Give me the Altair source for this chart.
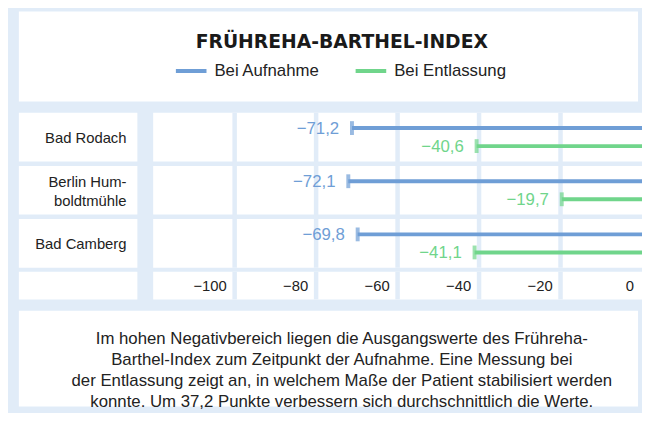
import altair as alt
import pandas as pd

# ---- data ----
sites = ["Bad Rodach", "Berlin Humboldtmühle", "Bad Camberg"]
site_labels = ["Bad Rodach", "Berlin Hum-\nboldtmühle", "Bad Camberg"]
series = ["Bei Aufnahme", "Bei Entlassung"]
aufnahme = [-71.2, -72.1, -69.8]
entlassung = [-40.6, -19.7, -41.1]
ticks = [-100, -80, -60, -40, -20, 0]
title_text = "FRÜHREHA-BARTHEL-INDEX"
note_lines = [
    "Im hohen Negativbereich liegen die Ausgangswerte des Frühreha-",
    "Barthel-Index zum Zeitpunkt der Aufnahme. Eine Messung bei",
    "der Entlassung zeigt an, in welchem Maße der Patient stabilisiert werden",
    "konnte. Um 37,2 Punkte verbessern sich durchschnittlich die Werte.",
]

# ---- styles ----
BG = "#e1ecf8"
BLUE = "#6f9ed6"
GREEN = "#70d58b"
TEXT = "#222222"
FONT = "Liberation Sans"
WHITE_VIEW = alt.ViewBackground(fill="white", stroke=None)

values = pd.DataFrame({
    "site": sites * 2,
    "series": [series[0]] * len(sites) + [series[1]] * len(sites),
    "value": aufnahme + entlassung,
})
site_df = pd.DataFrame({"site": sites, "label": site_labels})
tick_df = pd.DataFrame({"tick": ticks})

xscale = alt.Scale(domain=[-120, 0], nice=False, zero=False)
yscale = alt.Scale(paddingInner=0.0836, paddingOuter=0)
yenc = alt.Y("site:N", sort=sites, scale=yscale, axis=None)
yoff = alt.YOffset("series:N", sort=series, scale=alt.Scale(paddingInner=0, paddingOuter=0.35))
cscale = alt.Scale(domain=series, range=[BLUE, GREEN])
legend = alt.Legend(title=None, orient="none", legendX=159, legendY=44.5, direction="horizontal",
                    symbolType="M-1,-0.13H1V0.13H-1Z", symbolSize=961, symbolStrokeWidth=0,
                    labelFontSize=17, labelFont=FONT, labelColor=TEXT, labelOffset=8,
                    columnPadding=36, padding=0)

# white row cells and blue column gaps
cells = alt.Chart(site_df).mark_rect(color="white").encode(y=yenc)
gaps = alt.Chart(tick_df).transform_filter("datum.tick < 0").transform_calculate(
    g0="datum.tick - 0.55", g1="datum.tick + 0.55"
).mark_rect(color=BG).encode(
    x=alt.X("g0:Q", scale=xscale, axis=None), x2="g1:Q"
)

bars = alt.Chart(values).mark_bar(height=4).encode(
    x=alt.X("value:Q", scale=xscale, axis=None),
    x2=alt.datum(0),
    y=yenc, yOffset=yoff,
    color=alt.Color("series:N", sort=series, scale=cscale, legend=legend),
)
caps = alt.Chart(values).mark_tick(thickness=4, size=14).encode(
    x=alt.X("value:Q", scale=xscale, axis=None),
    y=yenc, yOffset=yoff,
    color=alt.Color("series:N", sort=series, scale=cscale, legend=None),
)
vlabels = alt.Chart(values).transform_calculate(
    lbl="replace(format(datum.value, '.1f'), '.', ',')"
).mark_text(align="right", baseline="middle", dx=-13, dy=1, fontSize=17, font=FONT).encode(
    x=alt.X("value:Q", scale=xscale, axis=None),
    y=yenc, yOffset=yoff,
    text="lbl:N",
    color=alt.Color("series:N", sort=series, scale=cscale, legend=None),
)
bars_chart = alt.layer(cells, gaps, bars, caps, vlabels).properties(width=495, height=157)

lab_base = alt.Chart(site_df).transform_calculate(nl="length(split(datum.label, '\\n'))")
lab1 = lab_base.transform_filter("datum.nl == 1").mark_text(
    align="right", baseline="middle", fontSize=15, font=FONT, color=TEXT, dy=1
).encode(x=alt.value(109), y=yenc, text="label:N")
lab2 = lab_base.transform_filter("datum.nl > 1").mark_text(
    align="right", baseline="middle", fontSize=15, font=FONT, color=TEXT,
    lineBreak="\n", lineHeight=19, dy=-8.5
).encode(x=alt.value(109), y=yenc, text="label:N")
label_col = alt.layer(cells, lab1, lab2).properties(width=120, height=157)

axis_empty = alt.Chart(pd.DataFrame({"t": [""]})).mark_text().encode(
    text="t:N", x=alt.value(60), y=alt.value(14)
).properties(width=120, height=28, view=WHITE_VIEW)
axis_text = alt.Chart(tick_df).transform_calculate(
    lbl="format(datum.tick, 'd')"
).mark_text(align="right", baseline="middle", dx=-8, dy=1, fontSize=15, font=FONT, color=TEXT).encode(
    x=alt.X("tick:Q", scale=xscale, axis=None),
    y=alt.value(14),
    text="lbl:N",
)
axis_row = alt.layer(gaps, axis_text).properties(width=495, height=28, view=WHITE_VIEW)

top = alt.Chart(pd.DataFrame({"t": [title_text]})).mark_text(
    font="DejaVu Sans", fontSize=19, fontWeight="bold", color="#1a1a1a",
    baseline="alphabetic", align="center"
).encode(text="t:N", x=alt.value(327), y=alt.value(37)).properties(
    width=627, height=91, view=WHITE_VIEW)

note = alt.Chart(pd.DataFrame({"t": ["\n".join(note_lines)]})).mark_text(
    font=FONT, fontSize=17, color=TEXT, lineBreak="\n", lineHeight=21.3,
    baseline="alphabetic", align="center"
).encode(text="t:N", x=alt.value(327), y=alt.value(33.5)).properties(
    width=627, height=97, view=WHITE_VIEW)

rowA = alt.hconcat(label_col, bars_chart, spacing=16)
rowB = alt.hconcat(axis_empty, axis_row, spacing=16)
grid = alt.vconcat(rowA, rowB, spacing=4)

chart = alt.vconcat(top, grid, note, spacing=11.5).properties(
    padding={"left": 11, "top": 1, "right": 0, "bottom": 0},
    background=BG,
).configure(font=FONT).configure_view(stroke=None)

chart.save("out.html", embed_options={"renderer": "svg", "actions": False})
